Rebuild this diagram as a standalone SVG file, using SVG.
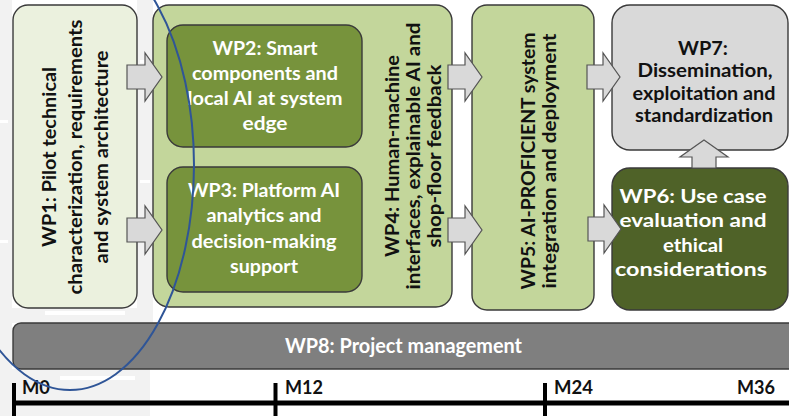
<svg xmlns="http://www.w3.org/2000/svg" width="789" height="416" viewBox="0 0 789 416">
<style>
.box{stroke:#3a3a3a;stroke-width:1.4}
.t{font-family:Lato,"Open Sans","Liberation Sans",sans-serif;font-weight:700;font-size:19px;text-anchor:middle}
.w{fill:#ffffff}
.k{fill:#111111}
.arr{fill:#d9d9d9;stroke:#555555;stroke-width:1.2;stroke-linejoin:miter}
.bg{fill:#f2f2f2}
.tl{stroke:#000;fill:none}
</style>
<rect width="789" height="416" fill="#ffffff"/>
<g id="background">
<rect class="bg" x="0" y="0" width="12" height="416"/>
<rect class="bg" x="137" y="0" width="16" height="322"/>
<rect class="bg" x="0" y="308" width="153" height="15"/>
<rect class="bg" x="0" y="369" width="150" height="47"/>
<rect x="45" y="311" width="80" height="4" fill="#ffffff"/>
<rect x="140" y="60" width="10" height="3" fill="#ffffff"/>
<rect x="140" y="180" width="10" height="3" fill="#ffffff"/>
<rect x="0" y="120" width="8" height="3" fill="#ffffff"/>
<rect x="0" y="240" width="8" height="3" fill="#ffffff"/>
<rect x="60" y="376" width="75" height="4" fill="#ffffff"/>
</g>
<g id="wp1">
<rect class="box" x="13" y="5" width="124" height="303" rx="15" fill="#ebf1de"/>
<g transform="translate(75,157) rotate(-90)">
<text class="t k" x="0" y="-19" textLength="180" lengthAdjust="spacingAndGlyphs">WP1: Pilot technical</text>
<text class="t k" x="0" y="7" textLength="275" lengthAdjust="spacingAndGlyphs">characterization, requirements</text>
<text class="t k" x="0" y="33" textLength="213" lengthAdjust="spacingAndGlyphs">and system architecture</text>
</g>
</g>
<g id="wp4">
<rect class="box" x="153" y="5" width="299" height="302" rx="16" fill="#c3d69b"/>
<g transform="translate(0,156) rotate(-90)">
<text class="t k" x="0" y="399" textLength="202" lengthAdjust="spacingAndGlyphs">WP4: Human-machine</text>
<text class="t k" x="0" y="420" textLength="267" lengthAdjust="spacingAndGlyphs">interfaces, explainable AI and</text>
<text class="t k" x="0" y="441" textLength="183" lengthAdjust="spacingAndGlyphs">shop-floor feedback</text>
</g>
</g>
<g id="wp2">
<rect class="box" x="167" y="25" width="195" height="122" rx="16" fill="#77933c"/>
<text class="t w" x="265" y="55" textLength="105" lengthAdjust="spacingAndGlyphs">WP2: Smart</text>
<text class="t w" x="265" y="80" textLength="146" lengthAdjust="spacingAndGlyphs">components and</text>
<text class="t w" x="265" y="105" textLength="155" lengthAdjust="spacingAndGlyphs">local AI at system</text>
<text class="t w" x="265" y="130" textLength="45" lengthAdjust="spacingAndGlyphs">edge</text>
</g>
<g id="wp3">
<rect class="box" x="167" y="167" width="195" height="125" rx="16" fill="#77933c"/>
<text class="t w" x="264" y="197" textLength="152" lengthAdjust="spacingAndGlyphs">WP3: Platform AI</text>
<text class="t w" x="264" y="222" textLength="115" lengthAdjust="spacingAndGlyphs">analytics and</text>
<text class="t w" x="264" y="248" textLength="145" lengthAdjust="spacingAndGlyphs">decision-making</text>
<text class="t w" x="264" y="273" textLength="68" lengthAdjust="spacingAndGlyphs">support</text>
</g>
<g id="wp5">
<rect class="box" x="472" y="5" width="122" height="305" rx="15" fill="#c3d69b"/>
<g transform="translate(0,161) rotate(-90)">
<text class="t k" x="0" y="535" textLength="257" lengthAdjust="spacingAndGlyphs">WP5: AI-PROFICIENT system</text>
<text class="t k" x="0" y="556" textLength="255" lengthAdjust="spacingAndGlyphs">integration and deployment</text>
</g>
</g>
<g id="wp7">
<rect class="box" x="612" y="5" width="176" height="145" rx="18" fill="#d9d9d9"/>
<text class="t k" x="703" y="55" textLength="50" lengthAdjust="spacingAndGlyphs">WP7:</text>
<text class="t k" x="705" y="77" textLength="135" lengthAdjust="spacingAndGlyphs">Dissemination,</text>
<text class="t k" x="704" y="99.5" textLength="143" lengthAdjust="spacingAndGlyphs">exploitation and</text>
<text class="t k" x="704" y="122" textLength="138" lengthAdjust="spacingAndGlyphs">standardization</text>
</g>
<g id="wp6">
<rect class="box" x="612" y="168" width="176" height="142" rx="18" fill="#4f6228"/>
<text class="t w" x="693" y="203" textLength="147" lengthAdjust="spacingAndGlyphs">WP6: Use case</text>
<text class="t w" x="693" y="227" textLength="147" lengthAdjust="spacingAndGlyphs">evaluation and</text>
<text class="t w" x="693" y="251.5" textLength="60" lengthAdjust="spacingAndGlyphs">ethical</text>
<text class="t w" x="691" y="276" textLength="152" lengthAdjust="spacingAndGlyphs">considerations</text>
</g>
<g id="wp8">
<rect class="box" x="13" y="323" width="800" height="46" rx="8" fill="#7f7f7f"/>
<text class="t w" x="403.5" y="353" style="font-size:20.5px" textLength="237" lengthAdjust="spacingAndGlyphs">WP8: Project management</text>
</g>
<g id="connectors">
<path class="arr" d="M127,65 H145 V53 L162,77 L145,101 V89 H127 Z"/>
<path class="arr" d="M127,218 H145 V206 L162,230 L145,254 V242 H127 Z"/>
<path class="arr" d="M448,65 H465 V53 L482,77 L465,101 V89 H448 Z"/>
<path class="arr" d="M448,218 H465 V206 L482,230 L465,254 V242 H448 Z"/>
<path class="arr" d="M587,65 H603 V53 L620,77 L603,101 V89 H587 Z"/>
<path class="arr" d="M588,217 H604 V205 L621,229 L604,253 V241 H588 Z"/>
<path class="arr" d="M692,168 V157 H680 L704,140 L728,157 H716 V168 Z"/>
</g>
<g id="timeline">
<line class="tl" x1="13" y1="403" x2="789" y2="403" stroke-width="5"/>
<line class="tl" x1="14" y1="383" x2="14" y2="416" stroke-width="4"/>
<line class="tl" x1="275.5" y1="383" x2="275.5" y2="416" stroke-width="4"/>
<line class="tl" x1="545" y1="383" x2="545" y2="416" stroke-width="4"/>
<text class="t k" x="36" y="394" textLength="28" lengthAdjust="spacingAndGlyphs">M0</text>
<text class="t k" x="304" y="394" textLength="38" lengthAdjust="spacingAndGlyphs">M12</text>
<text class="t k" x="573.5" y="394" textLength="39" lengthAdjust="spacingAndGlyphs">M24</text>
<text class="t k" x="756" y="394" textLength="38" lengthAdjust="spacingAndGlyphs">M36</text>
</g>
<ellipse id="highlight" cx="70" cy="165" rx="124" ry="225" fill="none" stroke="#2f5597" stroke-width="2"/>
</svg>
